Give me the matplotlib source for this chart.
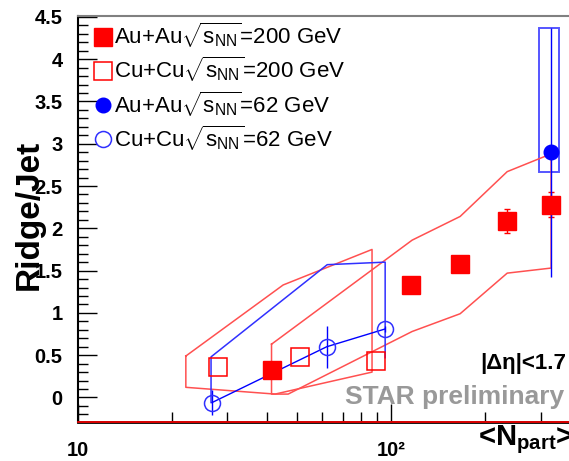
import numpy as np
import matplotlib
matplotlib.use('Agg')
import matplotlib.pyplot as plt
from matplotlib.patches import Rectangle

plt.rcParams['font.family'] = ['Liberation Sans', 'DejaVu Sans']
plt.rcParams['mathtext.fontset'] = 'custom'
plt.rcParams['mathtext.rm'] = 'Liberation Sans'
plt.rcParams['mathtext.it'] = 'Liberation Sans:italic'
plt.rcParams['mathtext.bf'] = 'Liberation Sans:bold'

# Au+Au 200 GeV
npart_auau200 = [41.5, 115.4, 166.1, 234.8, 324.3]
rj_auau200    = [0.32, 1.33, 1.58, 2.09, 2.28]
err_auau200   = [0.03, 0.03, 0.04, 0.14, 0.15]
band_auau200_up_x = [41.5, 116.7, 166.1, 234.8, 324.3]
band_auau200_up_y = [0.63, 1.86, 2.14, 2.67, 2.88]
band_auau200_lo_x = [41.5, 46.9, 116.7, 166.1, 234.8, 324.3]
band_auau200_lo_y = [0.04, 0.04, 0.78, 0.99, 1.47, 1.53]

# Cu+Cu 200 GeV
npart_cucu200 = [28.0, 51.3, 89.6]
rj_cucu200    = [0.36, 0.48, 0.43]
band_cucu200_up_x = [22.1, 45.2, 86.9]
band_cucu200_up_y = [0.49, 1.33, 1.75]
band_cucu200_lo_x = [22.1, 42.6, 86.9]
band_cucu200_lo_y = [0.12, 0.04, 0.30]

# Au+Au 62 GeV
npart_auau62 = [324.3]
rj_auau62    = [2.90]
err_auau62   = [1.47]
sys_auau62_x = [297.0, 344.0]
sys_auau62_y = [2.67, 4.37]

# Cu+Cu 62 GeV
npart_cucu62 = [26.8, 62.3, 95.7]
rj_cucu62    = [-0.06, 0.60, 0.81]
err_cucu62   = [0.15, 0.25, 0.04]
band_cucu62_x = [26.6, 26.6, 62.5, 95.7, 95.7]
band_cucu62_y = [-0.06, 0.48, 1.57, 1.60, 0.47]

red = '#ff0000'
blue = '#0000ff'

fig = plt.figure( figsize = ( 5.69, 4.61 ), dpi = 100 )
ax = fig.add_axes( [ 78/569, 39/461, 532/569, 406/461 ] )
ax.set_xscale( 'log' )
ax.set_xlim( 10, 500 )
ax.set_ylim( -0.29, 4.51 )

# systematic bands
bx = band_cucu200_up_x + band_cucu200_lo_x[::-1] + band_cucu200_up_x[:1]
by = band_cucu200_up_y + band_cucu200_lo_y[::-1] + band_cucu200_up_y[:1]
ax.plot( bx, by, color = '#ff5050', lw = 1.1 )
bx = band_auau200_up_x + band_auau200_lo_x[::-1] + band_auau200_up_x[:1]
by = band_auau200_up_y + band_auau200_lo_y[::-1] + band_auau200_up_y[:1]
ax.plot( bx, by, color = '#ff5050', lw = 1.1 )
ax.plot( band_cucu62_x, band_cucu62_y, color = '#3030ff', lw = 1.1 )
ax.add_patch( Rectangle( ( sys_auau62_x[0], sys_auau62_y[0] ),
                         sys_auau62_x[1] - sys_auau62_x[0],
                         sys_auau62_y[1] - sys_auau62_y[0],
                         fill = False, ec = '#5555ff', lw = 1.4 ) )

# error bars
ax.errorbar( npart_auau200, rj_auau200, yerr = err_auau200, fmt = 'none',
             ecolor = red, elinewidth = 1.0, capsize = 2 )
ax.errorbar( npart_cucu62, rj_cucu62, yerr = err_cucu62, fmt = 'none',
             ecolor = blue, elinewidth = 1.0 )
ax.errorbar( npart_auau62, rj_auau62, yerr = err_auau62, fmt = 'none',
             ecolor = blue, elinewidth = 1.0 )
ax.plot( npart_cucu62, rj_cucu62, color = blue, lw = 1.0 )

lab = [ r'Au+Au$\sqrt{\mathrm{s}_{\mathrm{NN}}}$=200 GeV',
        r'Cu+Cu$\sqrt{\mathrm{s}_{\mathrm{NN}}}$=200 GeV',
        r'Au+Au$\sqrt{\mathrm{s}_{\mathrm{NN}}}$=62 GeV',
        r'Cu+Cu$\sqrt{\mathrm{s}_{\mathrm{NN}}}$=62 GeV' ]

h1, = ax.plot( npart_auau200, rj_auau200, 's', color = red, ms = 13.5,
               mec = red, ls = 'none', label = lab[0], zorder = 5 )
h2, = ax.plot( npart_cucu200, rj_cucu200, 's', mfc = 'none', mec = red,
               ms = 13.5, mew = 1.1, ls = 'none', label = lab[1], zorder = 5 )
h3, = ax.plot( npart_auau62, rj_auau62, 'o', color = blue, ms = 10.5,
               ls = 'none', label = lab[2], zorder = 5 )
h4, = ax.plot( npart_cucu62, rj_cucu62, 'o', mfc = 'none', mec = '#3030ff',
               ms = 11.5, mew = 1.1, ls = 'none', label = lab[3], zorder = 5 )

ax.legend( handles = [ h1, h2, h3, h4 ], loc = 'upper left',
           bbox_to_anchor = ( 0.026, 0.988 ), frameon = False,
           fontsize = 16, handlelength = 1.0, handletextpad = 0.0,
           labelspacing = 0.22, borderaxespad = 0, borderpad = 0 )

# bottom red line
ax.axhline( -0.29, color = red, lw = 1.2, zorder = 6, clip_on = False )

# axes style
ax.spines['left'].set_linewidth( 1.5 )
ax.spines['bottom'].set_linewidth( 2.0 )
ax.spines['top'].set_color( '#808080' )
ax.spines['top'].set_linewidth( 1.5 )
ax.spines['right'].set_visible( False )

ax.set_yticks( np.arange( 0, 4.51, 0.5 ) )
ax.set_yticklabels( [ '0', '0.5', '1', '1.5', '2', '2.5', '3', '3.5', '4', '4.5' ] )
ax.set_yticks( np.arange( -0.2, 4.51, 0.1 ), minor = True )
ax.set_xticks( [ 10, 100 ] )
ax.set_xticklabels( [ '10', '10\u00b2' ] )
ax.set_xticks( [ 20, 30, 40, 50, 60, 70, 80, 90, 200, 300, 400 ], minor = True )
ax.xaxis.set_minor_formatter( plt.NullFormatter() )

ax.tick_params( axis = 'y', which = 'major', direction = 'in', length = 14,
                width = 1.0, labelsize = 14.5, pad = 11 )
ax.tick_params( axis = 'y', which = 'minor', direction = 'in', length = 7,
                width = 1.0 )
ax.tick_params( axis = 'x', which = 'major', direction = 'in', length = 13,
                width = 1.0, labelsize = 14.5, pad = 14 )
ax.tick_params( axis = 'x', which = 'minor', direction = 'in', length = 7,
                width = 1.0 )
ax.tick_params( top = False, right = False, which = 'both' )
for t in ax.get_xticklabels() + ax.get_yticklabels():
    t.set_fontweight( 'bold' )

fig.text( 29/569, 1 - 215/461, 'Ridge/Jet', rotation = 90, fontsize = 24,
          fontweight = 'bold', ha = 'center', va = 'center' )
fig.text( 478/569, 1 - 440/461, r'<N$_{\mathbf{part}}$>', fontsize = 21,
          fontweight = 'bold', ha = 'left', va = 'center' )
fig.text( 566/569, 1 - 363/461, '|\u0394\u03b7|<1.7', fontsize = 16,
          fontweight = 'bold', ha = 'right', va = 'center' )
fig.text( 345/569, 1 - 397/461, 'STAR preliminary', fontsize = 19,
          fontweight = 'bold', color = '#999999', ha = 'left', va = 'center' )

fig.savefig( 'out.png', dpi = 100 )
